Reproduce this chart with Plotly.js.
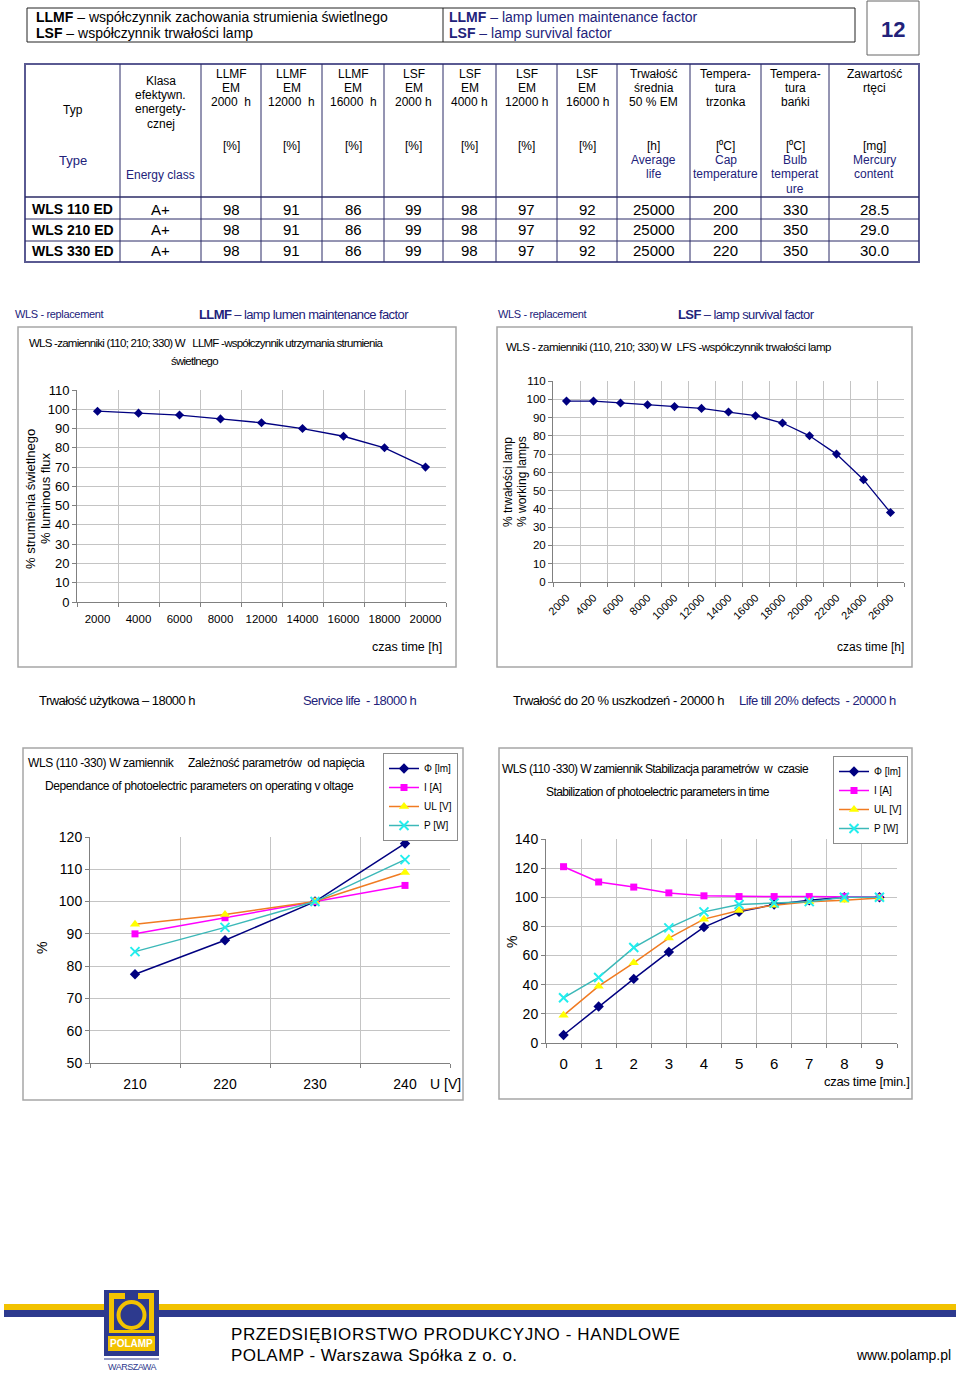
<!DOCTYPE html>
<html><head><meta charset="utf-8">
<script src="https://cdn.plot.ly/plotly-3.0.1.min.js"></script>
<style>html,body{margin:0;padding:0;background:#fff;}#chart{width:960px;height:1374px;}</style>
</head><body><div id="chart"></div>
<script>
// ---------------- DATA ----------------
const lampTypes   = ['WLS 110 ED','WLS 210 ED','WLS 330 ED'];
const energyClass = ['A+','A+','A+'];
const llmf2000  = [98,98,98];
const llmf12000 = [91,91,91];
const llmf16000 = [86,86,86];
const lsf2000   = [99,99,99];
const lsf4000   = [98,98,98];
const lsf12000  = [97,97,97];
const lsf16000  = [92,92,92];
const avgLife   = [25000,25000,25000];
const capTemp   = [200,200,220];
const bulbTemp  = [330,350,350];
const mercury   = ['28.5','29.0','30.0'];

const headerPL = [['Typ'],['Klasa','efektywn.','energety-','cznej'],['LLMF','EM','2000\u00A0 h'],['LLMF','EM','12000\u00A0 h'],['LLMF','EM','16000\u00A0 h'],['LSF','EM','2000 h'],['LSF','EM','4000 h'],['LSF','EM','12000 h'],['LSF','EM','16000 h'],['Trwałość','średnia','50 % EM'],['Tempera-','tura','trzonka'],['Tempera-','tura','bańki'],['Zawartość','rtęci']];
const headerUnits = ['','','[%]','[%]','[%]','[%]','[%]','[%]','[%]','[h]','[\u2070C]','[\u2070C]','[mg]'];
const headerEN = [['Type'],['Energy class'],[],[],[],[],[],[],[],['Average','life'],['Cap','temperature'],['Bulb','temperat','ure'],['Mercury','content']];

const llmfHours  = ['2000','4000','6000','8000','12000','14000','16000','18000','20000'];
const llmfValues = [99,98,97,95,93,90,86,80,70];

const lsfHours  = ['2000','4000','6000','8000','10000','12000','14000','16000','18000','20000','22000','24000','26000'];
const lsfValues = [99,99,98,97,96,95,93,91,87,80,70,56,38];

const voltage = ['210','220','230','240'];
const phiVolt = [77.5,88,100,118];
const iVolt   = [90,95,100,105];
const ulVolt  = [93,96,100,109];
const pVolt   = [84.5,92,100,113];

const minutes = ['0','1','2','3','4','5','6','7','8','9'];
const phiTime = [5.5,25,44,62.5,79.5,90,95,98,100,100];
const iTime   = [121,110.5,107,103,101,100.5,100.5,100.5,100.5,100];
const ulTime  = [19,39,55,72,85,91,94.5,97,98,99.5];
const pTime   = [31,45,65.5,79,90,95,96,97,100,100];

const seriesNames = ['Φ [lm]','I [A]','UL [V]','P [W]'];

// ---------------- LAYOUT HELPERS ----------------
const W=960,H=1374;
const X=p=>p/W, Y=p=>1-p/H;
const SANS='Liberation Sans, Arial, sans-serif';
const NAVY='#22227a';
const ann=[], shp=[];
function ls(t,v){return '<span style="letter-spacing:'+v+'px">'+t+'</span>';}
function txt(x,y,text,o={}){ann.push({xref:'paper',yref:'paper',x:X(x),y:Y(y),text:text,showarrow:false,
  xanchor:o.xa||'center',yanchor:o.ya||'middle',textangle:o.angle||0,borderpad:0,
  font:{family:SANS,size:o.size||12,color:o.color||'#000',weight:o.bold?'bold':'normal'}});}
function rect(x0,y0,x1,y1,o={}){shp.push({type:o.type||'rect',xref:'paper',yref:'paper',x0:X(x0),x1:X(x1),y0:Y(y1),y1:Y(y0),
  line:{color:o.lc||'#000',width:o.lw===undefined?1:o.lw},fillcolor:o.fill||'rgba(0,0,0,0)',layer:o.layer||'above'});}
function seg(x0,y0,x1,y1,o={}){shp.push({type:'line',xref:'paper',yref:'paper',x0:X(x0),x1:X(x1),y0:Y(y0),y1:Y(y1),
  line:{color:o.lc||'#000',width:o.lw||1},layer:o.layer||'above'});}

// ---------------- HEADER ----------------
rect(27,8,855,42,{lc:'#222',lw:1});
seg(443,8,443,42,{lc:'#222'});
txt(35,17,'<b>LLMF</b> – współczynnik zachowania strumienia świetlnego',{xa:'left',size:14});
txt(35,33,'<b>LSF</b> – współczynnik trwałości lamp',{xa:'left',size:14});
txt(448,17,'<b>LLMF</b> – lamp lumen maintenance factor',{xa:'left',size:14,color:NAVY});
txt(448,33,'<b>LSF</b> – lamp survival factor',{xa:'left',size:14,color:NAVY});
rect(867,1,919,55,{lc:'#666',lw:1});
txt(893,29,'12',{size:22,color:NAVY,bold:true});

// ---------------- TABLE ----------------
const colEdges=[25,120,201,261,322,384,443,496,557,617,690,761,829,919];
const TL='#2b2b66';
rect(25,64,919,262,{lc:'#5a5a92',lw:2});
for(let i=1;i<colEdges.length-1;i++) seg(colEdges[i],64,colEdges[i],262,{lc:TL});
seg(25,197,919,197,{lc:TL,lw:1.5});
seg(25,219,919,219,{lc:TL});
seg(25,241,919,241,{lc:TL});
const cx=i=>(colEdges[i]+colEdges[i+1])/2;
headerPL.forEach((lines,i)=>{
  if(i===0){txt(cx(0),110,lines[0],{size:12});return;}
  const ys = i===1?[81,95,109,124]:[74,88,102];
  lines.forEach((t,k)=>txt(cx(i),ys[k],t,{size:12}));
});
headerUnits.forEach((u,i)=>{ if(u) txt(cx(i),146,u,{size:12}); });
headerEN.forEach((lines,i)=>{
  if(i===0){txt(cx(0),160,lines[0],{size:13,color:NAVY});return;}
  if(i===1){txt(cx(1),175,lines[0],{size:12,color:NAVY});return;}
  const ys=[160,174,189];
  lines.forEach((t,k)=>txt(cx(i),ys[k],t,{size:12,color:NAVY}));
});
const rowY=[209,230,251];
const dataCols=[energyClass,llmf2000,llmf12000,llmf16000,lsf2000,lsf4000,lsf12000,lsf16000,avgLife,capTemp,bulbTemp,mercury];
lampTypes.forEach((t,r)=>{
  txt(cx(0),rowY[r],t,{size:14,bold:true});
  dataCols.forEach((col,c)=>txt(cx(c+1),rowY[r],String(col[r]),{size:15}));
});

// ---------------- LABELS ABOVE CHARTS ----------------
txt(14,314,ls('WLS - replacement',-0.35),{xa:'left',size:11,color:NAVY});
txt(198,314,ls('<b>LLMF</b> – lamp lumen maintenance factor',-0.6),{xa:'left',size:13,color:NAVY});
txt(497,314,ls('WLS - replacement',-0.35),{xa:'left',size:11,color:NAVY});
txt(677,314,ls('<b>LSF</b> – lamp survival factor',-0.6),{xa:'left',size:13,color:NAVY});

// chart boxes
const BOX='#a6a6a6';
rect(18,327,456,667,{lc:BOX,lw:1.5,layer:'below'});
rect(497,327,912,667,{lc:BOX,lw:1.5,layer:'below'});
rect(23,748,463,1100,{lc:BOX,lw:1.5,layer:'below'});
rect(499,748,912,1099,{lc:BOX,lw:1.5,layer:'below'});

// chart 1 texts
txt(28,343,ls('WLS -zamienniki (110; 210; 330) W\u00A0\u00A0 LLMF -współczynnik utrzymania strumienia',-0.75),{xa:'left',size:11.5});
txt(194,361,ls('świetlnego',-0.75),{size:11.5});
txt(31,499,'% strumienia świetlnego',{size:13,angle:-90});
txt(45,498,'% luminous flux',{size:13,angle:-90});
txt(443,647,'czas time [h]',{xa:'right',size:12.5});
// chart 2 texts
txt(505,347,ls('WLS - zamienniki (110, 210; 330) W\u00A0 LFS -współczynnik trwałości lamp',-0.55),{xa:'left',size:11.5});
txt(508,482,'% trwałości lamp',{size:12,angle:-90});
txt(522,482,'% working lamps',{size:12,angle:-90});
txt(905,647,'czas time [h]',{xa:'right',size:12});
// chart 3 texts
txt(27,763,ls('WLS (110 -330) W zamiennik\u00A0\u00A0\u00A0\u00A0 Zależność parametrów\u00A0 od napięcia',-0.4),{xa:'left',size:12});
txt(44,786,ls('Dependance of photoelectric parameters on operating v oltage',-0.4),{xa:'left',size:12});
txt(42,948,'%',{size:14,angle:-90});
txt(462,1084,'U [V]',{xa:'right',size:14});
// chart 4 texts
txt(501,769,ls('WLS (110 -330) W zamiennik Stabilizacja parametrów\u00A0 w\u00A0 czasie',-0.6),{xa:'left',size:12});
txt(545,792,ls('Stabilization of photoelectric parameters in time',-0.6),{xa:'left',size:12});
txt(512,942,'%',{size:14,angle:-90});
txt(911,1081,ls('czas time [min.]',-0.3),{xa:'right',size:13});

// bottom notes
txt(38,701,ls('Trwałość użytkowa – 18000 h',-0.55),{xa:'left',size:13});
txt(302,701,ls('Service life\u00A0 - 18000 h',-0.55),{xa:'left',size:13,color:NAVY});
txt(512,701,ls('Trwałość do 20 % uszkodzeń - 20000 h',-0.45),{xa:'left',size:13});
txt(738,701,ls('Life till 20% defects\u00A0 - 20000 h',-0.55),{xa:'left',size:13,color:NAVY});

// ---------------- FOOTER ----------------
const YEL='#F2C200', BLU='#2D3A8E';
rect(4,1304,956,1310,{lc:'rgba(0,0,0,0)',lw:0,fill:YEL});
rect(4,1310,956,1317,{lc:'rgba(0,0,0,0)',lw:0,fill:BLU});
rect(104,1290,159,1356,{lc:BLU,lw:0,fill:BLU});
rect(109,1293,154,1333,{lc:'rgba(0,0,0,0)',lw:0,fill:YEL});
rect(114,1299,149,1330,{lc:'rgba(0,0,0,0)',lw:0,fill:BLU});
rect(125,1293,138,1299,{lc:'rgba(0,0,0,0)',lw:0,fill:BLU});
rect(118.5,1302,144.5,1328,{type:'circle',lc:YEL,lw:4,fill:BLU});
rect(108,1336,155,1351,{lc:'rgba(0,0,0,0)',lw:0,fill:YEL});
txt(131.5,1343.5,'POLAMP',{size:10,color:'#fff',bold:true});
seg(104,1359,159,1359,{lc:BLU,lw:1});
txt(131.5,1367,ls('WARSZAWA',-0.5),{size:9,color:BLU});
txt(230,1334,ls('PRZEDSIĘBIORSTWO PRODUKCYJNO - HANDLOWE',0.6),{xa:'left',size:17});
txt(230,1355,ls('POLAMP - Warszawa Spółka z o. o.',0.45),{xa:'left',size:17});
txt(952,1355,'www.polamp.pl',{xa:'right',size:14});

// ---------------- AXES ----------------
const GRID='#c4c4c4', AX='#808080';
function xCat(d0,d1,ya,n,fs,standoff,extra){return Object.assign({domain:[X(d0),X(d1)],anchor:ya,type:'category',range:[-0.5,n-0.5],
  tickson:'boundaries',showgrid:true,gridcolor:GRID,gridwidth:1,ticks:'outside',ticklen:4,tickcolor:AX,showline:true,linecolor:AX,linewidth:1,
  zeroline:false,ticklabelstandoff:standoff,tickangle:0,tickfont:{family:SANS,size:fs,color:'#000'},fixedrange:true},extra||{});}
function xPts(main,ya,n){return {overlaying:main,anchor:ya,type:'linear',range:[-0.5,n-0.5],tick0:0,dtick:1,showgrid:true,gridcolor:GRID,gridwidth:1,
  showticklabels:false,ticks:'',zeroline:false,showline:false,fixedrange:true};}
function yLin(top,bot,xa,r,dt,fs){return {domain:[Y(bot),Y(top)],anchor:xa,range:r,tick0:0,dtick:dt,showgrid:true,gridcolor:GRID,gridwidth:1,
  ticks:'outside',ticklen:4,tickcolor:AX,showline:true,linecolor:AX,linewidth:1,zeroline:false,tickfont:{family:SANS,size:fs,color:'#000'},fixedrange:true};}

// ---------------- TRACES ----------------
const traces=[];
traces.push({x:llmfHours,y:llmfValues,xaxis:'x',yaxis:'y',mode:'lines+markers',showlegend:false,
  line:{color:'#000080',width:1.3},marker:{symbol:'diamond',size:7,color:'#000080'}});
traces.push({x:lsfHours,y:lsfValues,xaxis:'x2',yaxis:'y2',mode:'lines+markers',showlegend:false,
  line:{color:'#000080',width:1.3},marker:{symbol:'diamond',size:7,color:'#000080'}});
const styles=[
  {line:{color:'#000080',width:1.5},marker:{symbol:'diamond',size:8,color:'#000080'}},
  {line:{color:'#FF00FF',width:1.5},marker:{symbol:'square',size:7,color:'#FF00FF'}},
  {line:{color:'#F07B22',width:1.5},marker:{symbol:'triangle-up',size:9,color:'#FFFF00'}},
  {line:{color:'#3CB8B8',width:1.5},marker:{symbol:'x-thin-open',size:9,color:'#22EEEE',line:{width:2,color:'#22EEEE'}}}
];
[phiVolt,iVolt,ulVolt,pVolt].forEach((v,i)=>traces.push(Object.assign({x:voltage,y:v,xaxis:'x3',yaxis:'y3',mode:'lines+markers',
  name:seriesNames[i],legend:'legend'},styles[i])));
[phiTime,iTime,ulTime,pTime].forEach((v,i)=>traces.push(Object.assign({x:minutes,y:v,xaxis:'x4',yaxis:'y4',mode:'lines+markers',
  name:seriesNames[i],legend:'legend2'},styles[i])));

const legStyle={xanchor:'left',yanchor:'top',bordercolor:'#8c8c8c',borderwidth:1,bgcolor:'#fff',
  font:{family:SANS,size:10,color:'#000'},tracegroupgap:0,itemwidth:30,traceorder:'normal'};

const layout={
  width:W,height:H,margin:{l:0,r:0,t:0,b:0},paper_bgcolor:'#fff',plot_bgcolor:'rgba(0,0,0,0)',
  font:{family:SANS},hovermode:false,
  xaxis: xCat(77,446,'y',llmfHours.length,11.5,6),
  yaxis: yLin(390,602,'x',[0,110],10,13),
  xaxis2:xCat(553,904,'y2',lsfHours.length,11,4,{tickangle:-45}),
  yaxis2:yLin(381,582,'x2',[0,110],10,11.5),
  xaxis3:xCat(90,450,'y3',voltage.length,14,8),
  yaxis3:yLin(837,1063,'x3',[50,120],10,14),
  xaxis4:xCat(546,897,'y4',minutes.length,15,7),
  yaxis4:yLin(839,1043,'x4',[0,140],20,14),
  xaxis5:xPts('x','y',llmfHours.length),
  xaxis6:xPts('x2','y2',lsfHours.length),
  xaxis7:xPts('x3','y3',voltage.length),
  xaxis8:xPts('x4','y4',minutes.length),
  legend: Object.assign({x:X(383),y:Y(753)},legStyle),
  legend2:Object.assign({x:X(833),y:Y(756)},legStyle),
  annotations:ann,shapes:shp
};
Plotly.newPlot('chart',traces,layout,{displayModeBar:false,staticPlot:true});
</script></body></html>
